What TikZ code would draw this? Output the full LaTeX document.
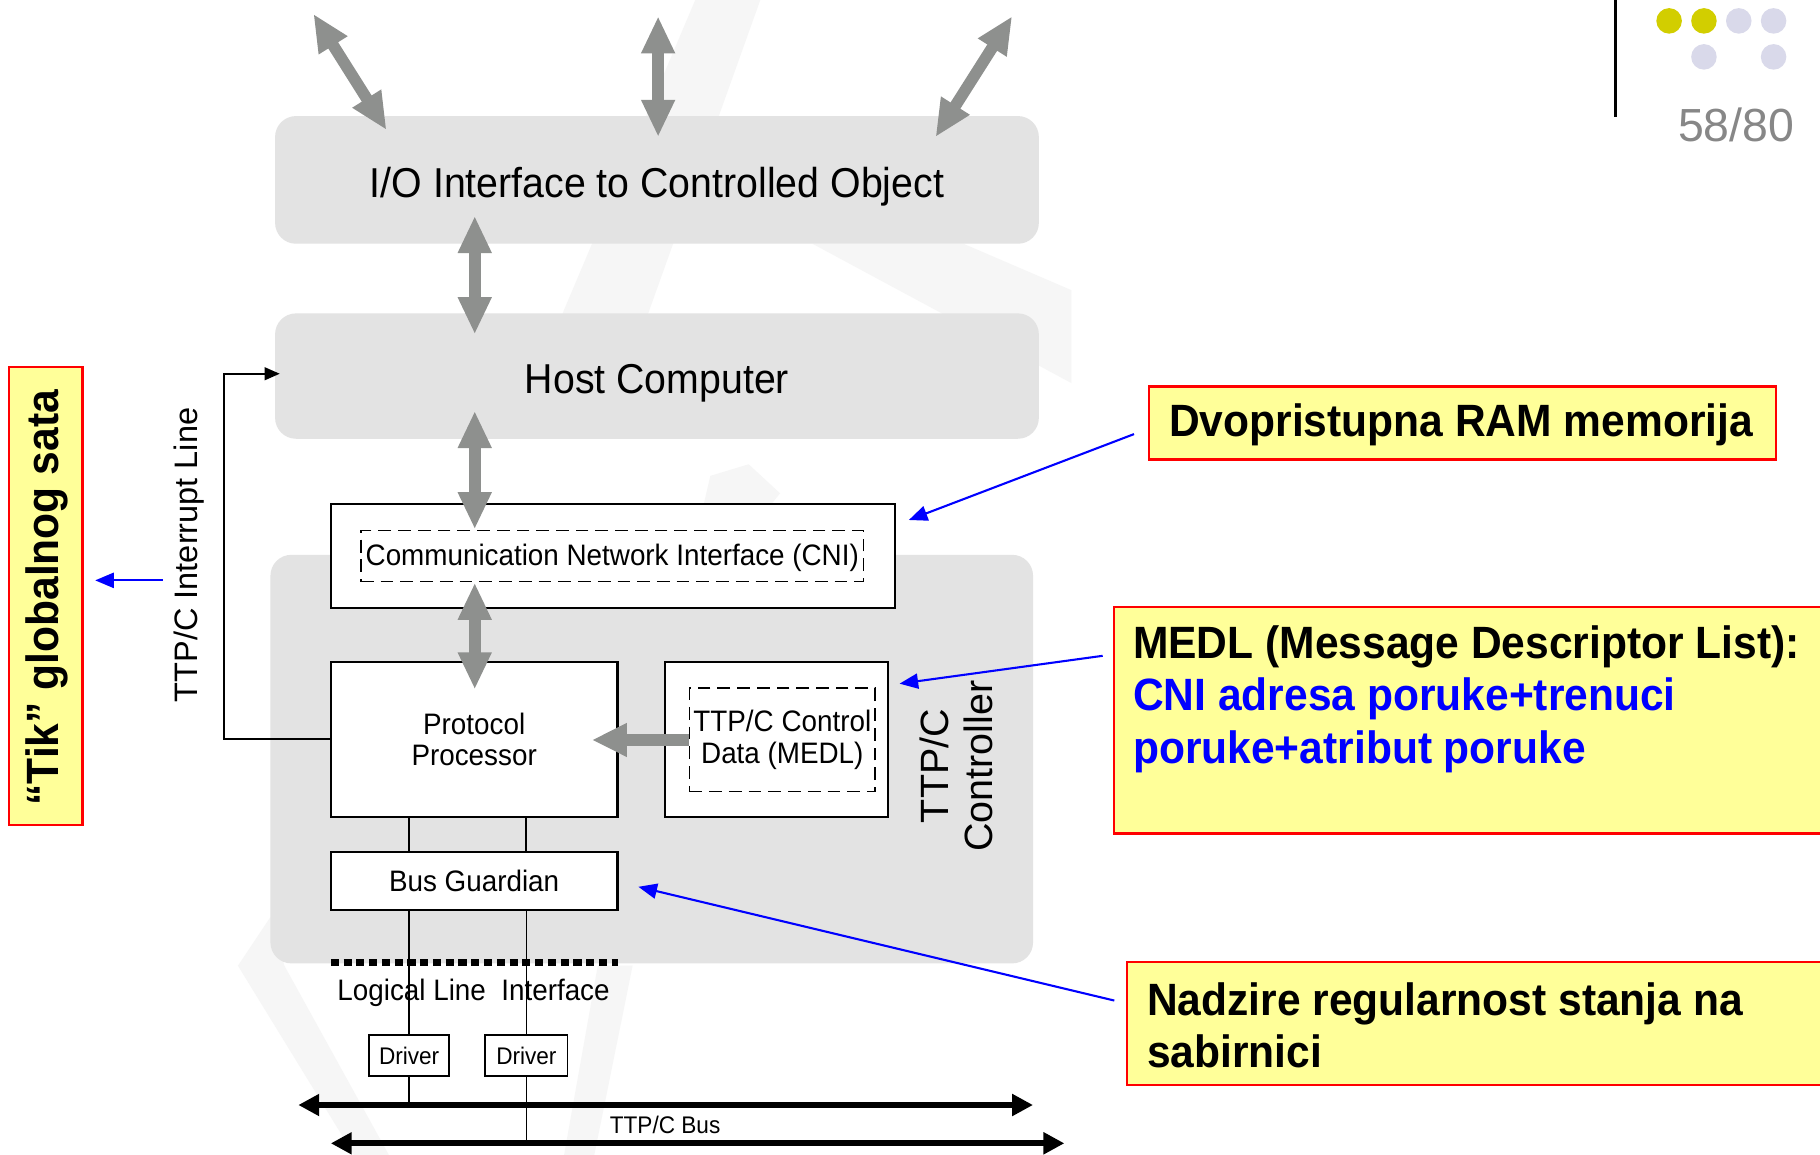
\documentclass[tikz,border=0pt]{standalone}
\usepackage{fontspec}
\setmainfont{Liberation Sans}
\newfontfamily\lab[FakeStretch=0.94]{Liberation Sans}
\newfontfamily\ann[FakeStretch=0.94]{Liberation Sans}
\usetikzlibrary{arrows.meta,calc}
\definecolor{boxgray}{RGB}{227,227,227}
\definecolor{agray}{RGB}{142,144,142}
\definecolor{wm}{RGB}{246,246,246}
\definecolor{noteyellow}{RGB}{255,255,153}
\definecolor{notered}{RGB}{255,0,0}
\definecolor{dotyellow}{RGB}{210,206,0}
\definecolor{dotlav}{RGB}{217,217,234}
\definecolor{pagegray}{RGB}{135,135,135}
\newcommand{\lowertext}[2]{\raisebox{-#1}[\height][\depth]{#2}}
\tikzset{
  rbox/.style={fill=boxgray, rounded corners=18pt, draw=none, inner sep=0pt},
  wbox/.style={draw=black, line width=1.8pt, fill=white, inner sep=0pt},
  dbox/.style={draw=black, line width=1.5pt, dash pattern=on 11pt off 6pt, inner sep=0pt},
  big/.style={font=\lab\fontsize{36}{40}\selectfont},
  mid/.style={font=\lab\fontsize{25.5}{27}\selectfont},
  small/.style={font=\lab\fontsize{20.7}{22}\selectfont},
  note/.style={draw=notered, line width=2pt, fill=noteyellow, inner sep=0pt},
  notetext/.style={font=\ann\bfseries\fontsize{39}{45}\selectfont, align=left, inner sep=0pt},
  garrow/.style={draw=agray, line width=10pt, {Triangle[length=32pt,width=27pt]}-{Triangle[length=32pt,width=27pt]}},
  gsingle/.style={draw=agray, line width=10pt, -{Triangle[length=30pt,width=27pt]}},
  busarrow/.style={draw=black, line width=5pt, {Triangle[length=18pt,width=18pt]}-{Triangle[length=18pt,width=18pt]}},
  barrow/.style={draw=blue, line width=1.8pt, -{Triangle[length=16pt,width=13pt]}},
  wire/.style={draw=black, line width=1.8pt},
}
\begin{document}
\begin{tikzpicture}[x=1pt,y=-1pt]
\useasboundingbox (0,0) rectangle (1568,995);
\clip (0,0) rectangle (1568,995);
\fill[white] (0,0) rectangle (1568,995);
% faint watermark
\fill[wm] (599,0) -- (655,0) -- (557,274) -- (483,274) -- cycle;
\fill[wm] (700,210) -- (830,210) -- (923,250) -- (923,330) -- cycle;
\fill[wm] (612,410) -- (645,400) -- (672,425) -- (660,440) -- (605,440) -- cycle;
\fill[wm] (205,832) -- (233,790) -- (245,832) -- (335,995) -- (305,995) -- cycle;
\fill[wm] (515,832) -- (545,832) -- (512,995) -- (486,995) -- cycle;

% big rounded regions
\node[rbox, big, minimum width=658pt, minimum height=110pt] (io) at (566,155) {\lowertext{6pt}{I/O Interface to Controlled Object}};
\node[rbox, big, minimum width=658pt, minimum height=108pt] (host) at (566,324) {\lowertext{6pt}{Host Computer}};
\node[rbox, minimum width=657pt, minimum height=352pt] (ctrl) at (561.5,654) {};

% white boxes
\node[wbox, minimum width=486pt, minimum height=90pt] (cni) at (528,479) {};
\node[dbox, mid, minimum width=433pt, minimum height=44pt] (cnid) at (527.5,479) {\lowertext{2pt}{Communication Network Interface (CNI)}};
\node[wbox, mid, align=center, minimum width=247pt, minimum height=134pt] (pp) at (408.5,637) {Protocol\\Processor};
\node[wbox, minimum width=192pt, minimum height=134pt] (medl) at (669,637) {};
\node[dbox, mid, align=center, minimum width=160pt, minimum height=89pt] (medld) at (674,637.5) {TTP/C Control\\Data (MEDL)};
\node[wbox, mid, minimum width=247pt, minimum height=50pt] (bg) at (408.5,759) {Bus Guardian};
\node[wbox, small, minimum width=69pt, minimum height=35pt, line width=1.5pt] (drv1) at (352.5,909.5) {Driver};
\node[wbox, small, minimum width=71pt, minimum height=35pt, line width=1.5pt] (drv2) at (453.5,909.5) {Driver};

% side labels
\node[rotate=90, font=\fontsize{34}{38}\selectfont, align=center, inner sep=0pt] (ctrllab) at (824,660) {TTP/C\\Controller};
\node[rotate=90, font=\fontsize{28}{30}\selectfont, inner sep=0pt] (intlab) at (163,478) {TTP/C Interrupt Line};

% logical line interface
\coordinate (lli1) at (285,829);
\coordinate (lli2) at (532,829);
\draw[line width=6pt, dash pattern=on 7pt off 4pt] (lli1) -- (lli2);
\node[mid, inner sep=0pt] (llilab) at (408,855) {Logical Line\ \ Interface};

% buses
\coordinate (b1l) at (257,952);
\coordinate (b1r) at (890,952);
\coordinate (b2l) at (285,985);
\coordinate (b2r) at (917,985);

% wires
\draw[wire] (drv1 |- pp.south) -- (drv1 |- bg.north);
\draw[wire] (drv2 |- pp.south) -- (drv2 |- bg.north);
\draw[wire, line width=2.2pt] (drv1 |- bg.south) -- (drv1.north);
\draw[wire, line width=1.5pt] (drv2 |- bg.south) -- (drv2.north);
\draw[wire, line width=2.2pt] (drv1.south) -- (drv1 |- b1l);
\draw[wire, line width=1.5pt] (drv2.south) -- (drv2 |- b2l);
\draw[busarrow] (b1l) -- (b1r);
\draw[busarrow] (b2l) -- (b2r);
\node[small, inner sep=0pt] (buslab) at (573,969) {TTP/C Bus};

% interrupt line
\coordinate (ic) at (193,322);
\coordinate (it) at (241,322);
\draw[line width=1.6pt, -{Triangle[length=13pt,width=11pt]}] (pp.west) -| (ic) -- (it);

% gray arrows
\coordinate (t1a) at (270,12);   \coordinate (t1b) at (333,112);
\coordinate (t2a) at (567,14);   \coordinate (t2b) at (567,118);
\coordinate (t3a) at (872,14);   \coordinate (t3b) at (806,118);
\coordinate (h1a) at (409,186);  \coordinate (h1b) at (409,288);
\coordinate (h2a) at (409,354);  \coordinate (h2b) at (409,456);
\coordinate (h3a) at (409,502);  \coordinate (h3b) at (409,594);
\coordinate (ppin) at (510,637.5);
\draw[garrow] (t1a) -- (t1b);
\draw[garrow] (t2a) -- (t2b);
\draw[garrow] (t3a) -- (t3b);
\draw[garrow] (h1a) -- (h1b);
\draw[garrow] (h2a) -- (h2b);
\draw[garrow] (h3a) -- (h3b);
\draw[gsingle] (medld.west) -- (ppin);

% annotation boxes
\node[note, minimum width=63pt, minimum height=395pt] (tik) at (39.5,513.5) {};
\node[rotate=90, notetext] (tiktext) at (40,515) {“Tik” globalnog sata};
\node[note, minimum width=540pt, minimum height=63pt] (ram) at (1260,364.5) {};
\node[notetext, anchor=west] (ramtext) at (1007,366) {Dvopristupna RAM memorija};
\node[note, minimum width=620pt, minimum height=195pt] (medlnote) at (1270,620.5) {};
\node[notetext, anchor=north west] (medltext) at (976,539) {MEDL (Message Descriptor List):\\\textcolor{blue}{CNI adresa poruke+trenuci}\\\textcolor{blue}{poruke+atribut poruke}};
\node[note, minimum width=609pt, minimum height=106pt] (bgnote) at (1275.5,882) {};
\node[notetext, anchor=north west] (bgtext) at (988,846) {Nadzire regularnost stanja na\\sabirnici};

% blue pointer arrows
\coordinate (p0s) at (140,500); \coordinate (p0e) at (82,500);
\coordinate (p1s) at (977,374); \coordinate (p1e) at (783,448);
\coordinate (p2s) at (950,565); \coordinate (p2e) at (775,589);
\coordinate (p3s) at (960,862); \coordinate (p3e) at (550,764);
\draw[barrow] (p0s) -- (p0e);
\draw[barrow] (p1s) -- (p1e);
\draw[barrow] (p2s) -- (p2e);
\draw[barrow] (p3s) -- (p3e);

% page decoration
\coordinate (vl1) at (1392,0); \coordinate (vl2) at (1392,101);
\draw[line width=3pt] (vl1) -- (vl2);
\fill[dotyellow] (1438,18) circle (11pt);
\fill[dotyellow] (1468,18) circle (11pt);
\fill[dotlav] (1498,18) circle (11pt);
\fill[dotlav] (1528,18) circle (11pt);
\fill[dotlav] (1468,49) circle (11pt);
\fill[dotlav] (1528,49) circle (11pt);
\node[anchor=east, text=pagegray, font=\fontsize{40}{44}\selectfont, inner sep=0pt] (pagenum) at (1546,108) {58/80};
\end{tikzpicture}
\end{document}
